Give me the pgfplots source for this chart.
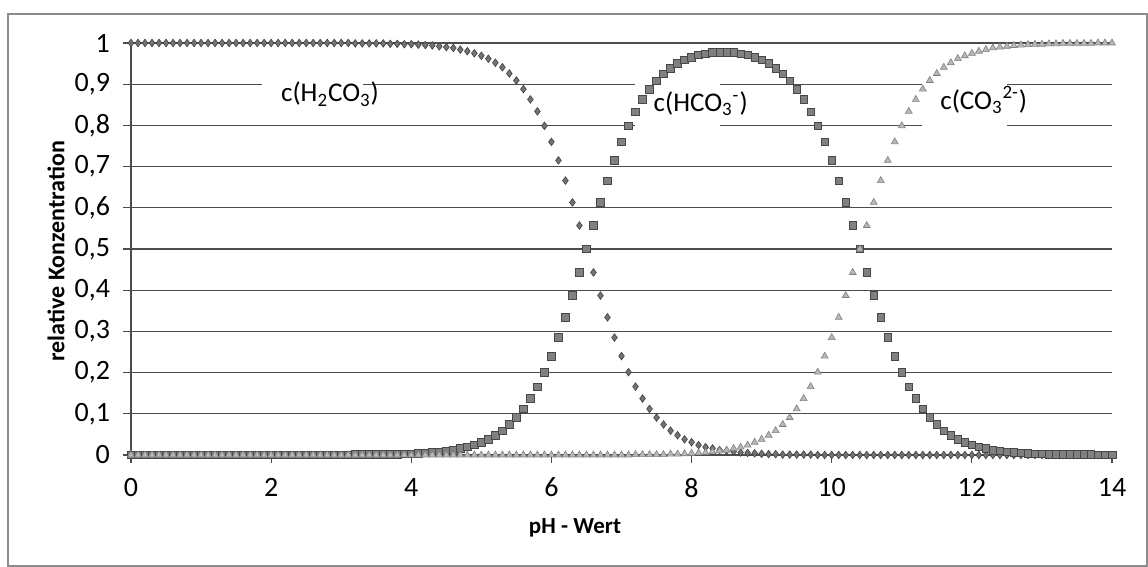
\documentclass[border=0pt]{standalone}
\usepackage{fontspec}
\setmainfont{Carlito}
\usepackage{pgfplots}
\usepackage{pgfplotstable}
\pgfplotsset{compat=1.18}

% pH, c(H2CO3), c(HCO3-), c(CO3 2-)
\pgfplotstableread{
x a b c
0.0 1 0 0
0.1 1 0 0
0.2 1 0 0
0.3 1 0 0
0.4 1 0 0
0.5 1 0 0
0.6 1 0 0
0.7 1 0 0
0.8 1 0 0
0.9 1 0 0
1.0 1 0 0
1.1 1 0 0
1.2 1 0 0
1.3 1 0 0
1.4 1 0 0
1.5 1 0 0
1.6 1 0 0
1.7 1 0 0
1.8 1 0 0
1.9 1 0 0
2.0 1 0 0
2.1 1 0 0
2.2 1 0 0
2.3 1 0 0
2.4 1 0 0
2.5 1 0 0
2.6 1 0 0
2.7 1 0 0
2.8 1 0 0
2.9 1 0 0
3.0 1 0 0
3.1 1 0 0
3.2 0.999 0.001 0
3.3 0.999 0.001 0
3.4 0.999 0.001 0
3.5 0.999 0.001 0
3.6 0.999 0.001 0
3.7 0.998 0.002 0
3.8 0.998 0.002 0
3.9 0.997 0.003 0
4.0 0.997 0.003 0
4.1 0.996 0.004 0
4.2 0.995 0.005 0
4.3 0.994 0.006 0
4.4 0.992 0.008 0
4.5 0.990 0.010 0
4.6 0.988 0.012 0
4.7 0.984 0.016 0
4.8 0.980 0.020 0
4.9 0.975 0.025 0
5.0 0.969 0.031 0
5.1 0.962 0.038 0
5.2 0.952 0.048 0
5.3 0.941 0.059 0
5.4 0.926 0.074 0
5.5 0.909 0.091 0
5.6 0.888 0.112 0
5.7 0.863 0.137 0
5.8 0.834 0.166 0
5.9 0.799 0.201 0
6.0 0.760 0.240 0
6.1 0.715 0.285 0
6.2 0.666 0.334 0
6.3 0.613 0.387 0
6.4 0.557 0.443 0
6.5 0.500 0.500 0
6.6 0.443 0.557 0
6.7 0.387 0.613 0
6.8 0.334 0.666 0
6.9 0.285 0.715 0
7.0 0.240 0.760 0
7.1 0.201 0.799 0
7.2 0.166 0.833 0.001
7.3 0.137 0.863 0.001
7.4 0.112 0.887 0.001
7.5 0.091 0.908 0.001
7.6 0.074 0.925 0.001
7.7 0.059 0.939 0.002
7.8 0.048 0.950 0.002
7.9 0.038 0.959 0.003
8.0 0.031 0.966 0.004
8.1 0.024 0.971 0.005
8.2 0.019 0.974 0.006
8.3 0.016 0.977 0.008
8.4 0.012 0.978 0.010
8.5 0.010 0.978 0.012
8.6 0.008 0.977 0.016
8.7 0.006 0.974 0.019
8.8 0.005 0.971 0.024
8.9 0.004 0.966 0.031
9.0 0.003 0.959 0.038
9.1 0.002 0.950 0.048
9.2 0.002 0.939 0.059
9.3 0.001 0.925 0.074
9.4 0.001 0.908 0.091
9.5 0.001 0.887 0.112
9.6 0.001 0.863 0.137
9.7 0.001 0.833 0.166
9.8 0 0.799 0.201
9.9 0 0.760 0.240
10.0 0 0.715 0.285
10.1 0 0.666 0.334
10.2 0 0.613 0.387
10.3 0 0.557 0.443
10.4 0 0.500 0.500
10.5 0 0.443 0.557
10.6 0 0.387 0.613
10.7 0 0.334 0.666
10.8 0 0.285 0.715
10.9 0 0.240 0.760
11.0 0 0.201 0.799
11.1 0 0.166 0.834
11.2 0 0.137 0.863
11.3 0 0.112 0.888
11.4 0 0.091 0.909
11.5 0 0.074 0.926
11.6 0 0.059 0.941
11.7 0 0.048 0.952
11.8 0 0.038 0.962
11.9 0 0.031 0.969
12.0 0 0.025 0.975
12.1 0 0.020 0.980
12.2 0 0.016 0.984
12.3 0 0.012 0.988
12.4 0 0.010 0.990
12.5 0 0.008 0.992
12.6 0 0.006 0.994
12.7 0 0.005 0.995
12.8 0 0.004 0.996
12.9 0 0.003 0.997
13.0 0 0.003 0.997
13.1 0 0.002 0.998
13.2 0 0.002 0.998
13.3 0 0.001 0.999
13.4 0 0.001 0.999
13.5 0 0.001 0.999
13.6 0 0.001 0.999
13.7 0 0.001 0.999
13.8 0 0 1
13.9 0 0 1
14.0 0 0 1
}\speciestable

\begin{document}
\begin{tikzpicture}
\useasboundingbox (0,0) rectangle (574pt,283.5pt);
\draw[black!45, line width=0.6pt] (4pt,0.5pt) rectangle (573.5pt,276.5pt);
\begin{axis}[
  at={(65.5pt,56pt)}, anchor=south west,
  scale only axis, width=490.5pt, height=206pt,
  xmin=0, xmax=14, ymin=0, ymax=1,
  xtick={0,2,4,6,8,10,12,14},
  ytick={0,0.1,0.2,0.3,0.4,0.5,0.6,0.7,0.8,0.9,1},
  axis x line=bottom, axis y line=left,
  axis line style={-, black!70, line width=0.6pt},
  tick align=outside, major tick length=4pt,
  tick style={black!70, line width=0.6pt},
  ymajorgrids, grid style={black!70, line width=0.6pt},
  /pgf/number format/use comma,
  /pgf/number format/assume math mode=true,
  ticklabel style={font=\fontsize{14}{16}\selectfont},
  yticklabel style={xshift=-3pt},
  xticklabel style={yshift=-4pt},
  xlabel={pH - Wert}, ylabel={relative Konzentration},
  xlabel style={font=\bfseries\fontsize{11.5}{13}\selectfont,
    at={(axis description cs:0.4526,-0.177)}, anchor=center},
  ylabel style={font=\bfseries\fontsize{12}{14}\selectfont,
    at={(axis description cs:-0.0765,0.495)}, anchor=center},
  clip=false,
]
\addplot[only marks, mark=diamond*, mark size=1.9pt, draw=black!75, fill=black!55, line width=0.3pt]
  table[x=x, y=a] {\speciestable};
\addplot[only marks, mark=square*, mark size=1.9pt, draw=black!72, fill=black!50, line width=0.3pt]
  table[x=x, y=b] {\speciestable};
\addplot[only marks, mark=triangle*, mark size=2pt, draw=black!50, fill=black!28, line width=0.3pt]
  table[x=x, y=c] {\speciestable};

\fill[white] (axis cs:1.87,0.82) rectangle (axis cs:3.31,0.96);
\fill[white] (axis cs:7.19,0.76) rectangle (axis cs:8.41,0.915);
\fill[white] (axis cs:11.29,0.76) rectangle (axis cs:12.5,0.93);
\node[font=\fontsize{13.5}{16}\selectfont] at (axis cs:2.84,0.876) {c(H\textsubscript{2}CO\textsubscript{3})};
\node[font=\fontsize{13.5}{16}\selectfont] at (axis cs:8.13,0.852) {c(HCO\textsubscript{3}\textsuperscript{-})};
\node[font=\fontsize{13.5}{16}\selectfont] at (axis cs:12.17,0.861) {c(CO\textsubscript{3}\textsuperscript{2-})};
\end{axis}
\end{tikzpicture}
\end{document}
